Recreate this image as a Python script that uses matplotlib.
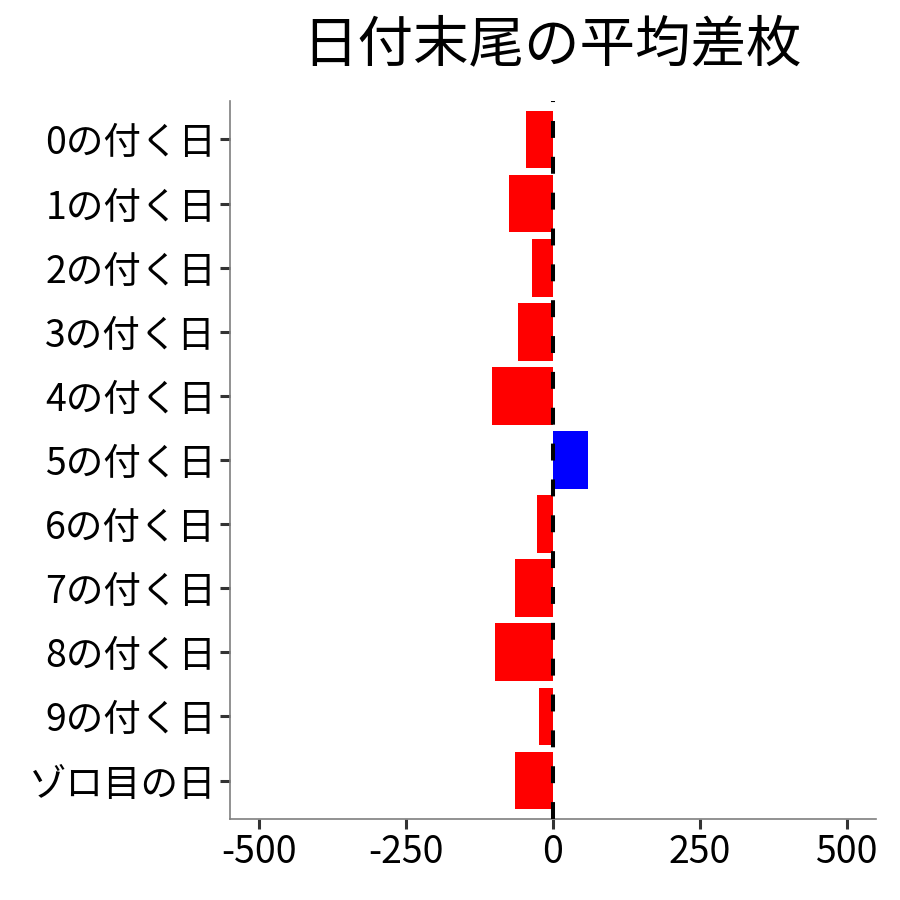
import matplotlib
matplotlib.use("Agg")
import matplotlib.pyplot as plt

plt.rcParams['font.family'] = ['Noto Sans CJK JP', 'DejaVu Sans']

# 日付末尾ごとの平均差枚
labels = ["0の付く日", "1の付く日", "2の付く日", "3の付く日", "4の付く日",
          "5の付く日", "6の付く日", "7の付く日", "8の付く日", "9の付く日",
          "ゾロ目の日"]
values = [-46, -75, -36, -59, -104, 59, -28, -64, -99, -23, -65]
xticks = [-500, -250, 0, 250, 500]

colors = ["blue" if v > 0 else "red" for v in values]
ypos = list(range(len(labels)))

fig = plt.figure(figsize=(9, 9), dpi=100)
ax = fig.add_axes([0.2556, 0.09, 0.7177, 0.7978])

ax.barh(ypos, values, height=0.9, color=colors, zorder=2)
ax.axvline(0, color="black", linewidth=2.9, linestyle=(0, (4.2, 4.7)), zorder=3)

ax.set_xlim(-550, 550)
ax.set_ylim(len(labels) - 0.4, -0.6)
ax.set_yticks(ypos)
ax.set_yticklabels(labels, fontsize=27)
ax.set_xticks(xticks)
ax.set_xticklabels([str(t) for t in xticks], fontsize=27)

for side in ["top", "right"]:
    ax.spines[side].set_visible(False)
for side in ["left", "bottom"]:
    ax.spines[side].set_color("#7f7f7f")
    ax.spines[side].set_linewidth(1.2)
ax.tick_params(length=7, width=2.2, color="#333333", pad=3)

fig.text(0.613, 0.95, "日付末尾の平均差枚", fontsize=40, ha="center", va="center")

fig.savefig("out.png", dpi=100)
